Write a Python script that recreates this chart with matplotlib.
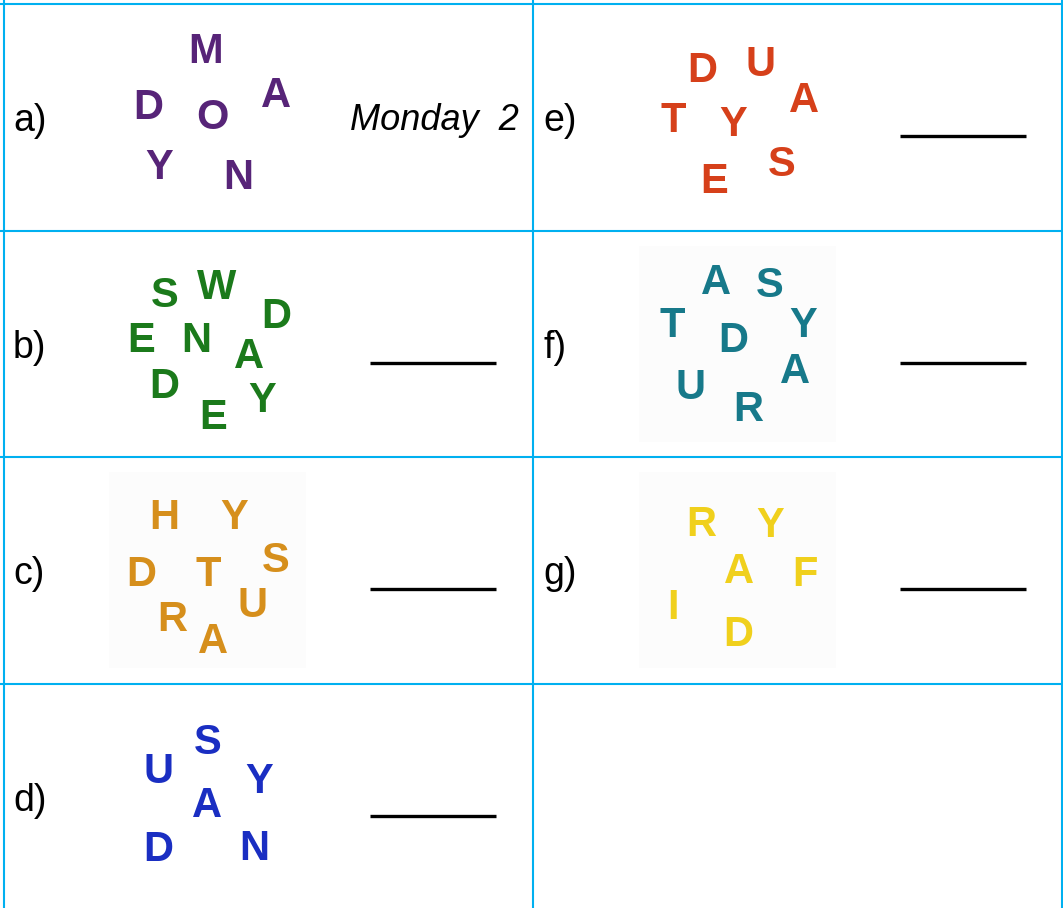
import matplotlib.pyplot as plt
from matplotlib.patches import Rectangle

# scrambled-letter worksheet, 2 columns x 4 rows

labels = ['a)', 'b)', 'c)', 'd)', 'e)', 'f)', 'g)']
answers = ['Monday  2', '', '', '', '', '', '']
colours = ['#572478', '#1b7a1b', '#d68f1c', '#1a2ec2', '#d6401a', '#17798a', '#f0d01c']

# letters of each puzzle and where they sit inside the cell (px from cell corner)
puzzle_letters = ['MADOYN', 'SWDENADYE', 'HYDTSURA', 'SUYADN', 'DUATYES', 'ASTDYAUR', 'RYAFID']
letter_x = [
    [206, 276, 148, 212, 159, 238],
    [165, 217, 276, 141, 196, 249, 164, 262, 213],
    [164, 234, 141, 208, 276, 252, 172, 213],
    [208, 158, 259, 207, 158, 254],
    [172, 231, 274, 143, 203, 184, 252],
    [186, 240, 142, 203, 273, 265, 160, 218],
    [171, 240, 209, 275, 143, 208],
]
letter_y = [
    [44, 88, 100, 110, 160, 170],
    [61, 53, 82, 106, 106, 122, 152, 166, 183],
    [57, 57, 114, 114, 100, 145, 159, 181],
    [55, 84, 94, 118, 162, 161],
    [63, 57, 93, 113, 117, 174, 157],
    [48, 51, 91, 106, 91, 137, 153, 175],
    [64, 65, 111, 114, 147, 174],
]
has_backdrop = [False, False, True, False, False, True, True]

W, H = 1063, 908
col_left = [0, 530]
col_lines = [3.5, 533, 1062]
row_tops = [4, 231, 457, 684]

plt.rcParams['font.family'] = ['Liberation Sans', 'DejaVu Sans']
fig = plt.figure(figsize=(W / 100, H / 100), dpi=100)
ax = fig.add_axes([0, 0, 1, 1])
ax.set_xlim(0, W)
ax.set_ylim(H, 0)
ax.axis('off')

grid_col = '#00b0f0'
for x in col_lines:
    ax.plot([x, x], [0, H], color=grid_col, lw=1.5, solid_capstyle='butt')
for y in row_tops:
    ax.plot([0, W], [y, y], color=grid_col, lw=1.5, solid_capstyle='butt')

letter_size = 30
cap_px = 0.716 * letter_size * 100 / 72

for i, lab in enumerate(labels):
    col = 0 if i < 4 else 1
    row = i if i < 4 else i - 4
    x0 = col_left[col]
    y0 = row_tops[row]

    if has_backdrop[i]:
        ax.add_patch(Rectangle((x0 + 109, y0 + 15), 197, 196, facecolor='#fcfcfc',
                               edgecolor='none', zorder=0))

    ax.text(x0 + 13, y0 + 127, lab, fontsize=27, ha='left', va='baseline', color='black')

    for ch, lx, ly in zip(puzzle_letters[i], letter_x[i], letter_y[i]):
        ax.text(x0 + lx, y0 + ly + cap_px / 2, ch, fontsize=letter_size, fontweight='bold',
                ha='center', va='baseline', color=colours[i])

    if answers[i]:
        ax.text(x0 + 350, y0 + 126, answers[i], fontsize=26, style='italic',
                ha='left', va='baseline', color='black')
    else:
        ax.plot([x0 + 370, x0 + 496], [y0 + 132, y0 + 132], color='black', lw=2.4,
                solid_capstyle='butt')

fig.savefig('out.png', dpi=100)
